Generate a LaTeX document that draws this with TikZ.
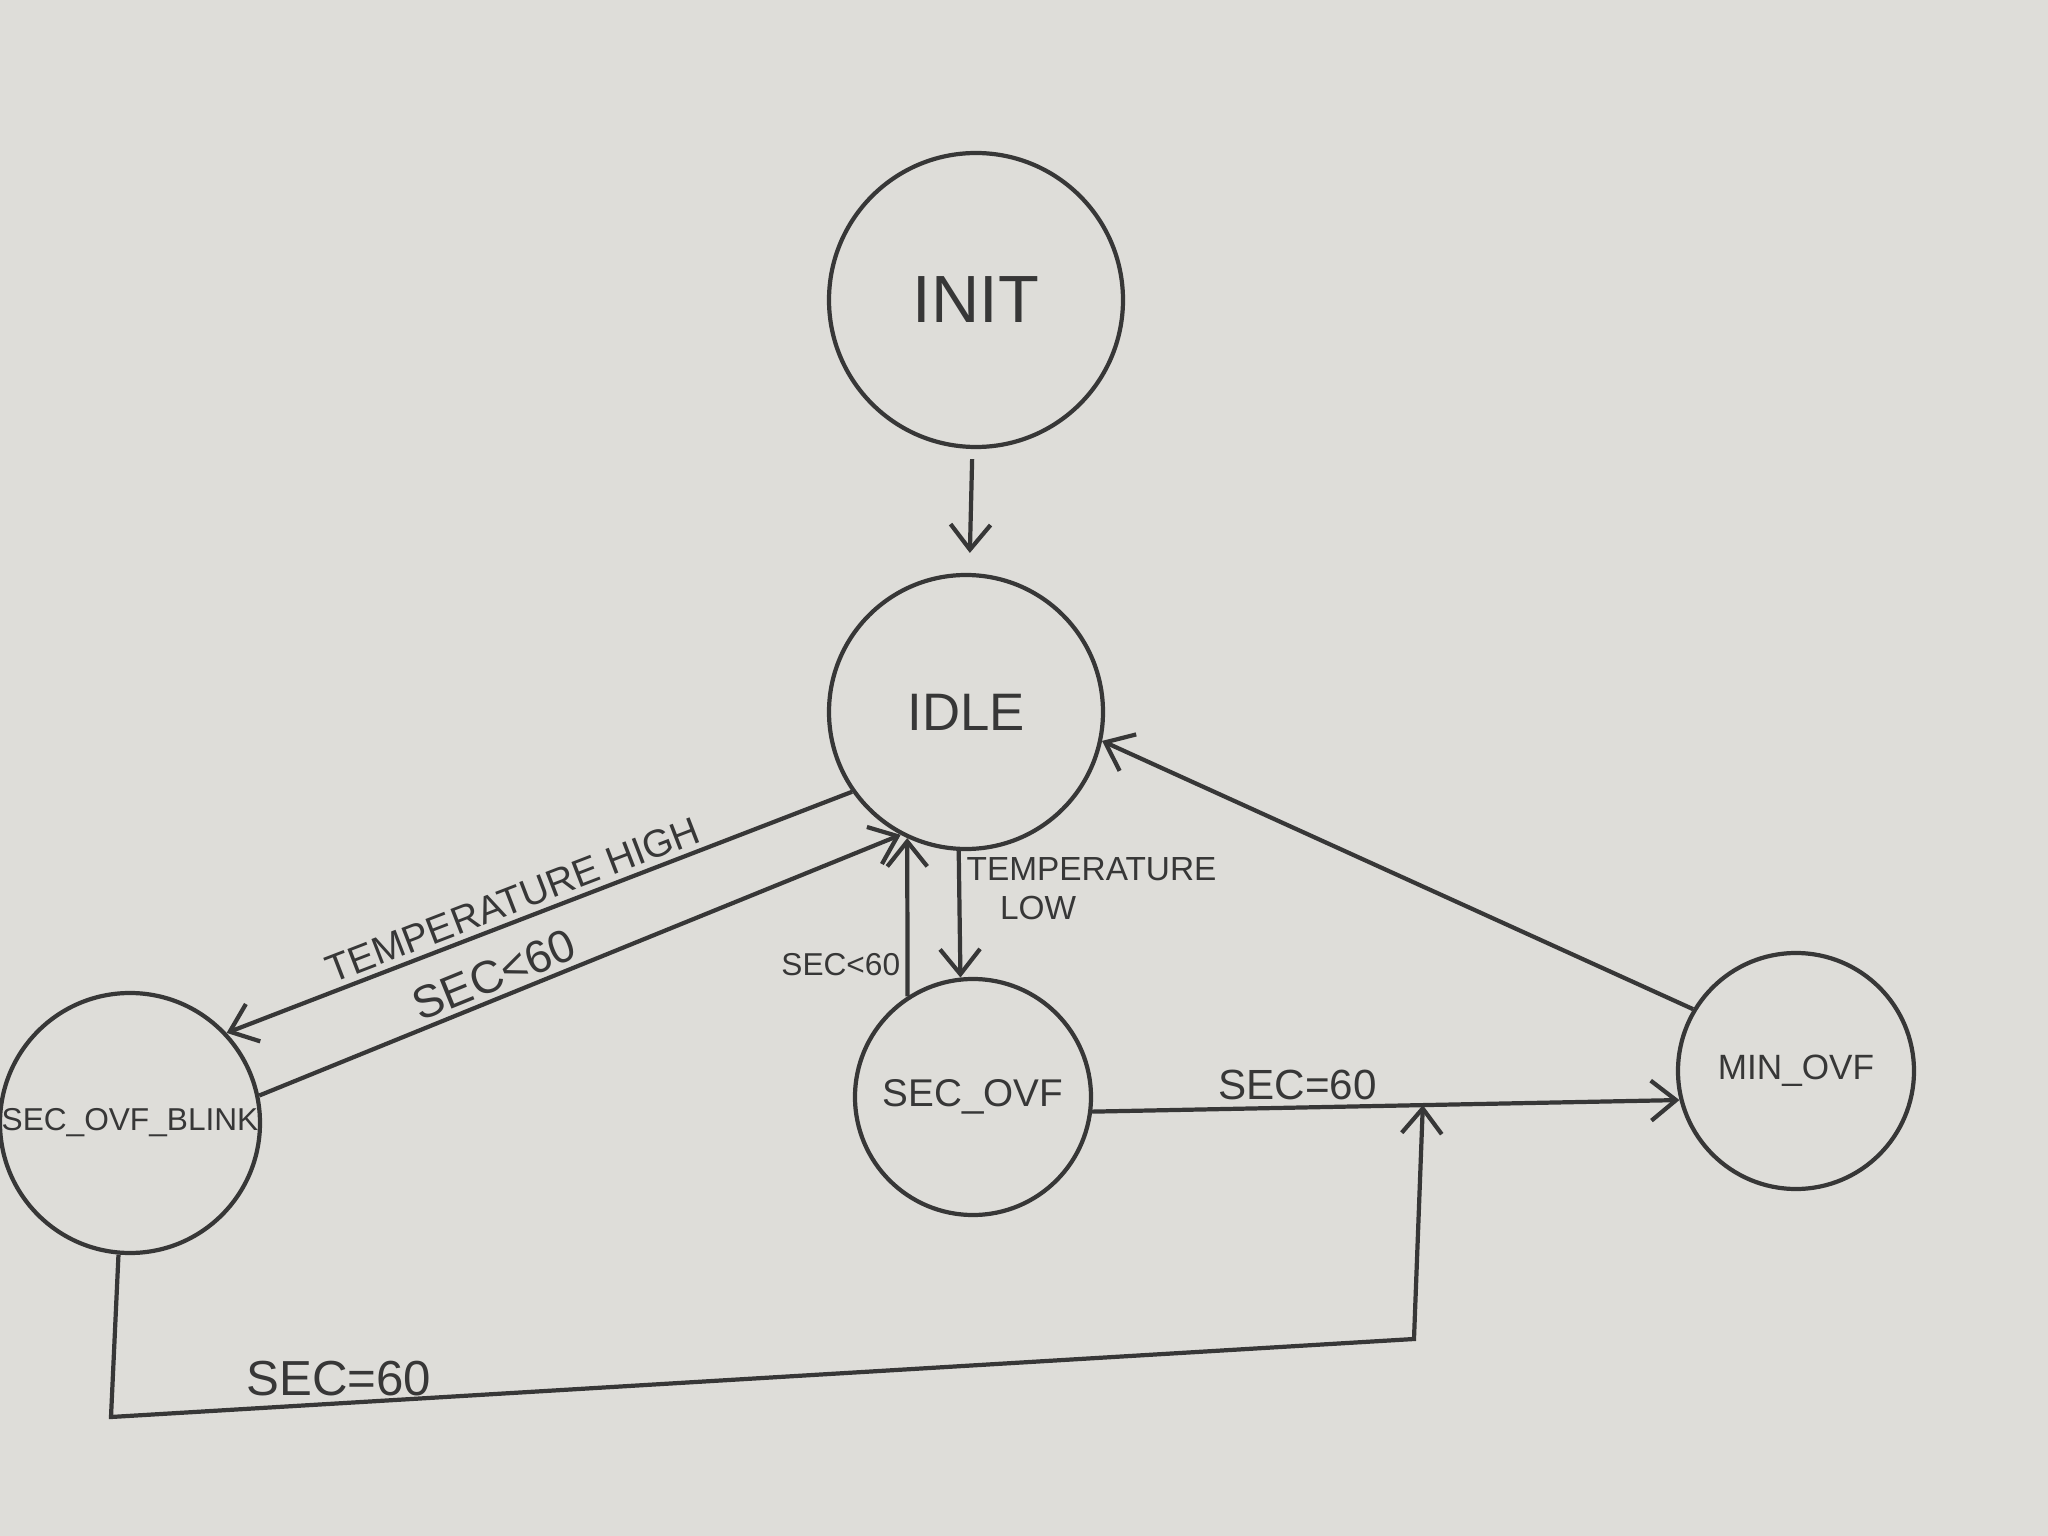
\documentclass[tikz,border=0pt]{standalone}
\usepackage{fontspec}
\setmainfont{Liberation Sans}
\usetikzlibrary{arrows.meta,calc}
\definecolor{paper}{RGB}{222,221,217}
\definecolor{pencil}{RGB}{55,55,55}
\tikzset{
state/.style={draw=pencil,circle,line width=1.2pt,inner sep=0pt,text=pencil},
edge/.style={draw=pencil,line width=1.2pt,-{Straight Barb[length=2.5mm,width=4mm]}},
lbl/.style={text=pencil,inner sep=1.5pt}
}
\begin{document}
\begin{tikzpicture}
\fill[paper] (0,0) rectangle (20.48,-15.36);
\useasboundingbox (0,0) rectangle (20.48,-15.36);

\node[state,minimum size=2.94cm,font=\fontsize{19}{21}\selectfont] (init) at (9.76,-3.00) {INIT};
\node[state,minimum size=2.74cm,font=\fontsize{15}{17}\selectfont] (idle) at (9.66,-7.12) {IDLE};
\node[state,minimum size=2.36cm,font=\fontsize{11}{13}\selectfont] (secovf) at (9.73,-10.97) {SEC\_OVF};
\node[state,minimum size=2.60cm,font=\fontsize{9}{11}\selectfont] (secblink) at (1.30,-11.23) {SEC\_OVF\_BLINK};
\node[state,minimum size=2.36cm,font=\fontsize{10}{12}\selectfont] (minovf) at (17.96,-10.71) {MIN\_OVF};

\coordinate (join) at ($(secovf.353)!0.563!(minovf.194)$);
\coordinate (bendleft) at (1.11,-14.17);
\coordinate (bendright) at (14.14,-13.39);

\draw[edge,shorten <=0.1cm,shorten >=0.2cm] (init) -- (idle);
\draw[edge] (idle.215) -- node[lbl,pos=0.53,sloped,above,font=\fontsize{11}{13}\selectfont] {TEMPERATURE HIGH} (secblink.43);
\draw[edge] (secblink.12) -- node[lbl,pos=0.38,sloped,above,font=\fontsize{13}{15}\selectfont] {SEC<60} (idle.242);
\draw[edge] (secovf.123) -- node[lbl,pos=0.2,left,font=\fontsize{9}{11}\selectfont] {SEC<60} (idle.245);
\draw[edge] (idle.267) -- node[lbl,pos=0.3,right,align=left,font=\fontsize{9.5}{11}\selectfont] {TEMPERATURE\\\hspace{1em}LOW} (secovf.96);
\draw[edge] (secovf.353) -- node[lbl,pos=0.35,above,font=\fontsize{12}{14}\selectfont] {SEC=60} (minovf.194);
\draw[edge] (secblink.265) -- (bendleft) -- node[lbl,pos=0.175,above,font=\fontsize{14}{16}\selectfont] {SEC=60} (bendright) -- (join);
\draw[edge] (minovf.149) -- (idle.-12);
\end{tikzpicture}
\end{document}
